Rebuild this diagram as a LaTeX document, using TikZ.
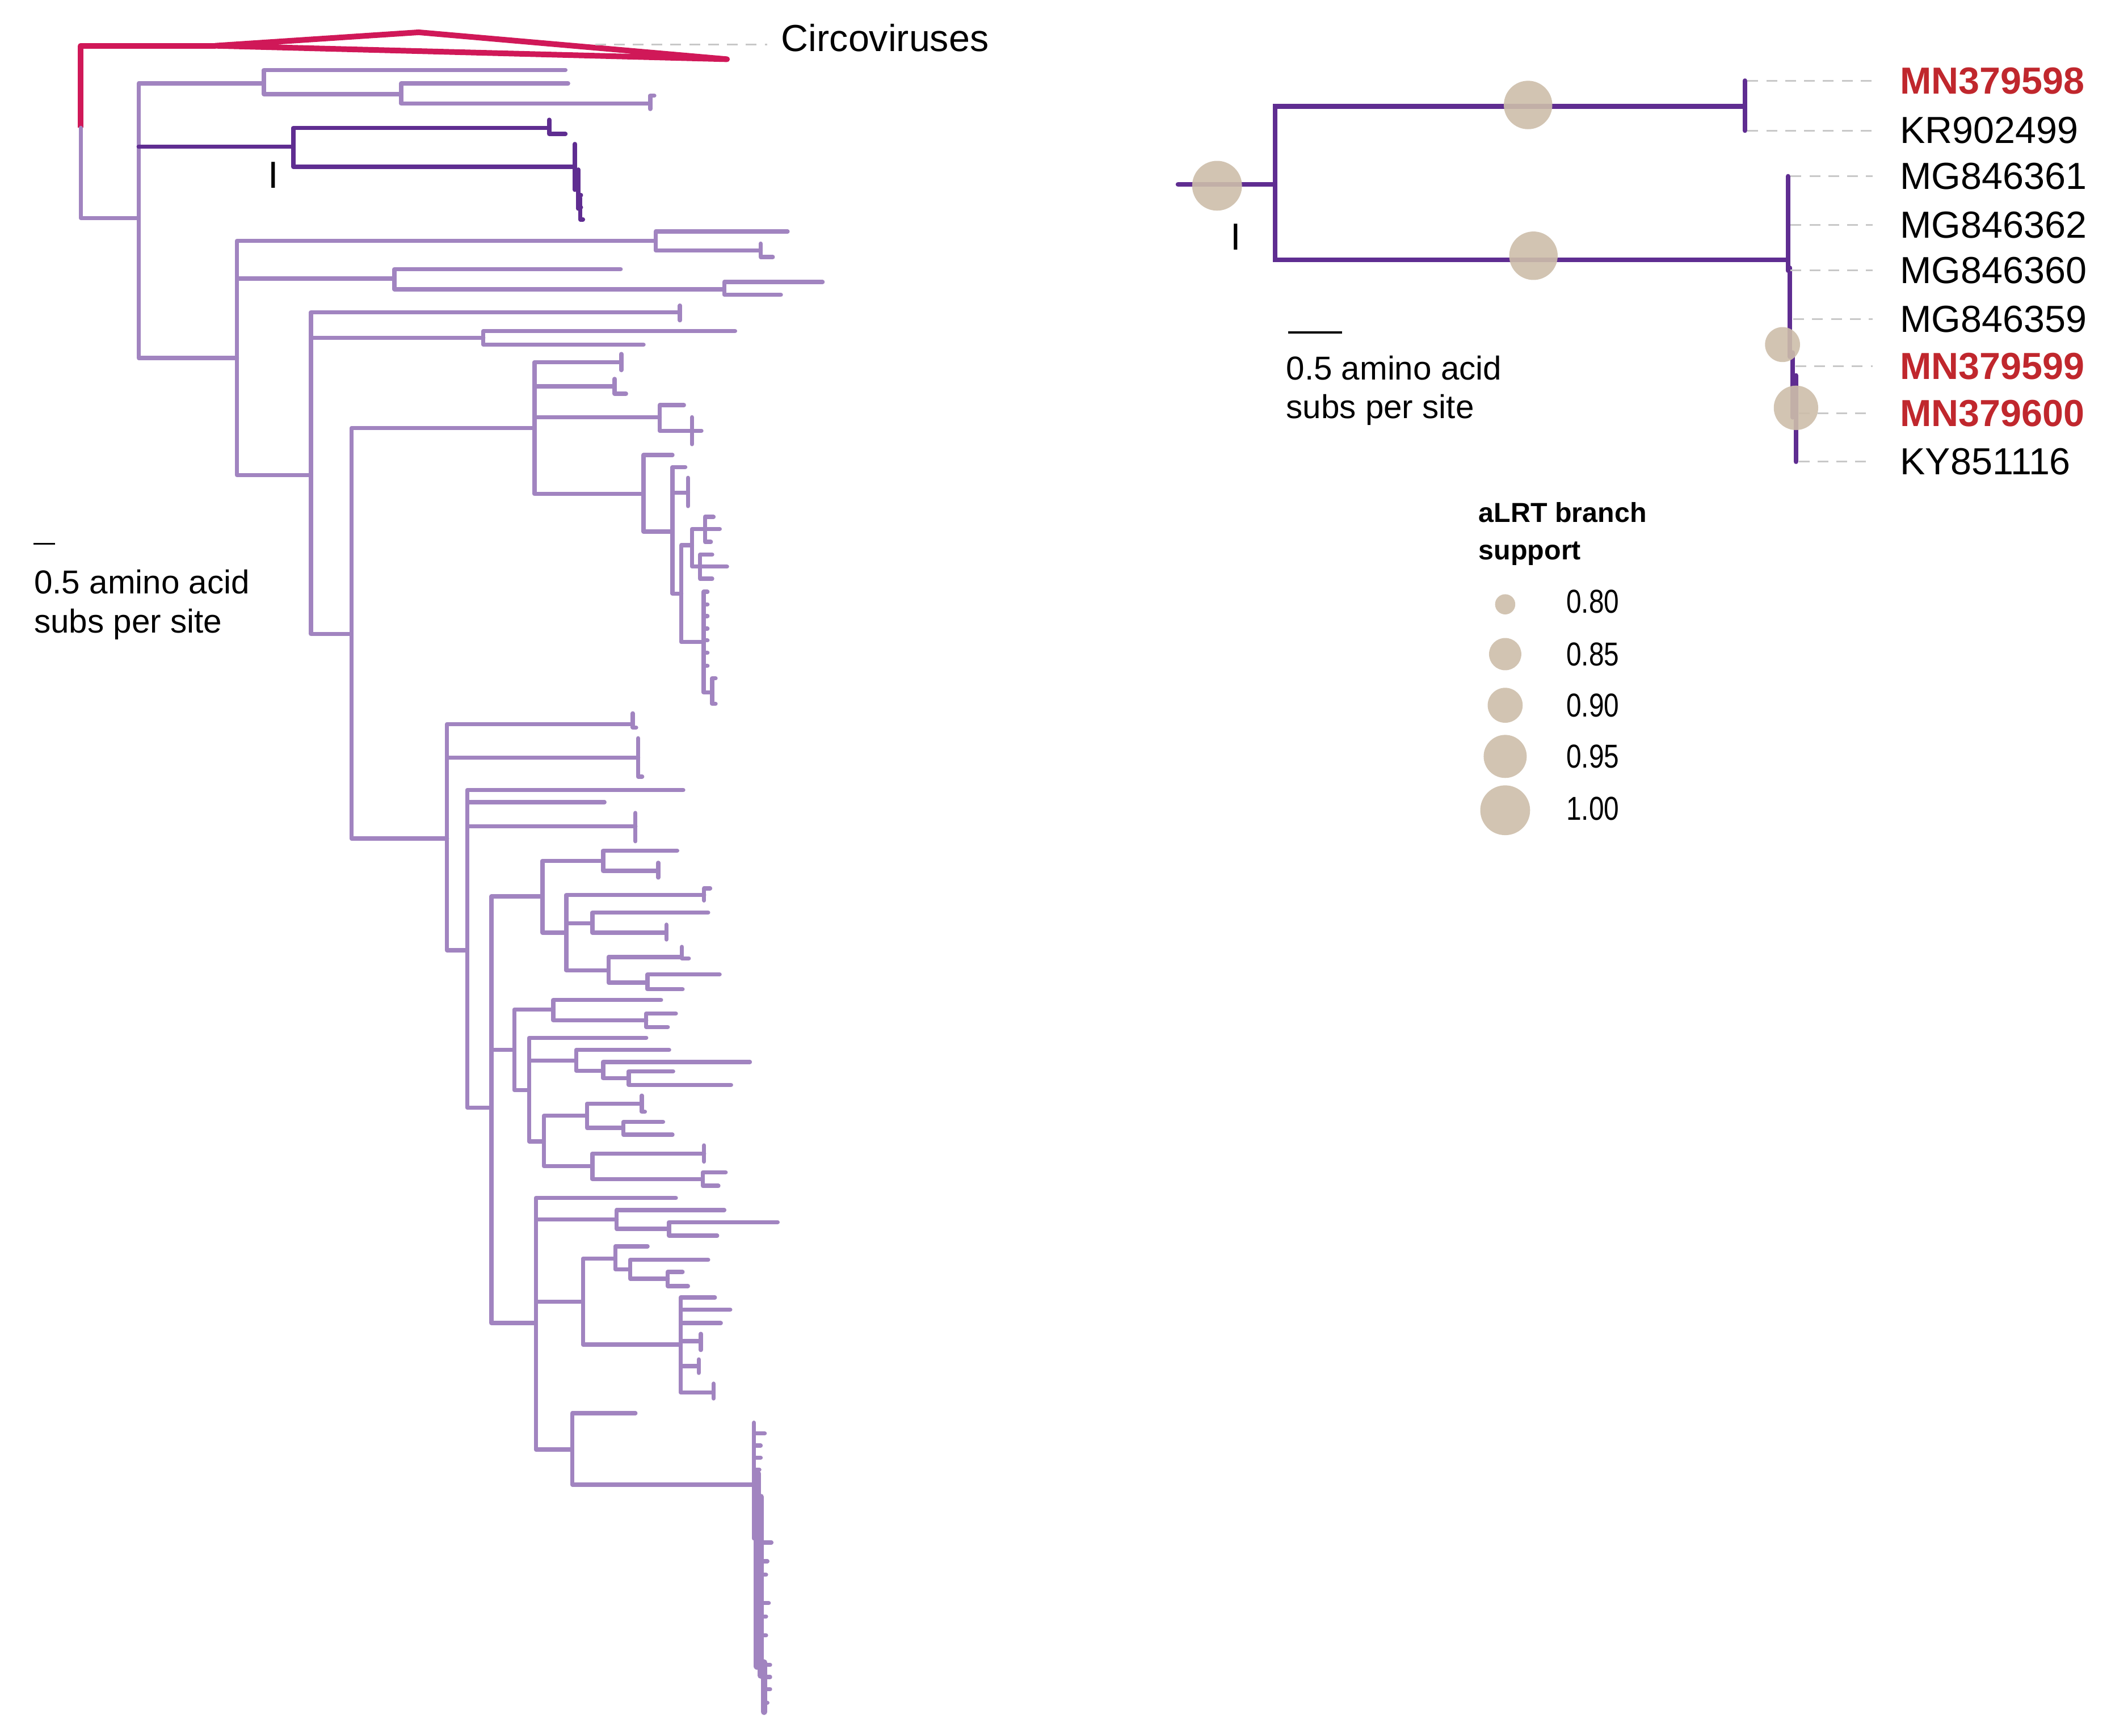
\documentclass[tikz,border=0pt]{standalone}
\usepackage{fontspec}
\setmainfont{Liberation Sans}
\newfontfamily\narrowfont[FakeStretch=0.82]{Liberation Sans}
\definecolor{lt}{RGB}{161,132,192}
\definecolor{dk}{RGB}{95,45,145}
\definecolor{cri}{RGB}{208,24,88}
\definecolor{tanc}{RGB}{205,190,170}
\definecolor{redl}{RGB}{192,39,45}
\definecolor{dashg}{RGB}{200,200,200}
\begin{document}
\begin{tikzpicture}[x=0.5pt,y=-0.5pt,
  lb/.style={line width=1.55pt, color=lt, line cap=round, line join=round},
  db/.style={line width=1.6pt, color=dk, line cap=round, line join=round},
  rb/.style={line width=1.75pt, color=dk, line cap=round},
  cb/.style={line width=2.1pt, color=cri, line join=round},
  lead/.style={dashg, line width=0.6pt, dash pattern=on 4pt off 3pt},
  bsupp/.style={circle, fill=tanc, fill opacity=0.9, inner sep=0pt, minimum size=#1},
  tiplab/.style={anchor=west, inner sep=0pt, font=\fontsize{14}{16}\selectfont},
  redlab/.style={tiplab, text=redl, font=\bfseries\fontsize{14}{16}\selectfont},
  scaletxt/.style={anchor=base west, inner sep=0pt, font=\fontsize{12.3}{14}\selectfont},
  legnum/.style={anchor=west, inner sep=0pt, font=\narrowfont\fontsize{12.3}{14}\selectfont},
  legtitle/.style={anchor=base west, inner sep=0pt, font=\bfseries\fontsize{10.2}{12}\selectfont},
  clade/.style={inner sep=0pt, font=\fontsize{14}{16}\selectfont}]
\useasboundingbox (0,0) rectangle (1568,1289.4);

% ---------------- left tree ----------------
\coordinate (R0) at (60,95);
\coordinate (CV) at (160,34);
\draw[cb] (R0) |- (CV);
\draw[cb] (CV) -- (311,24) -- (540,44) -- cycle;
\foreach \p/\c/\x/\y in {
 R0/N0/103/162, N0/A/196/62, A/a1/420/52, A/A2/298/70, A2/a2/422/62, A2/A3/483/77,
 A3/a3/486/71, A3/a4/483/81,
 N0/N1/176/266, N1/B/487/179, B/b1/585/172, B/B2/565/186, B2/b2/565/181, B2/b3/574/191,
 N1/C/293/207, C/c1/461/200, C/C2/538/215, C2/c2/611/209.5, C2/c3/580/219,
 N1/D/231/353, D/D1/505/232, D1/d1/505/227, D1/d2/505/238,
 D/D2/359/251, D2/d3/546/246, D2/d4/478/256,
 D/N3/261/471,
 N3/P/397/318, P/P1/461.5/269, P1/p1/461.5/263, P1/p2/461.5/275,
 P/P2/456.5/287, P2/p3/456.5/281.5, P2/p4/465/292.5,
 P/P3/490/310, P3/p5/508/301, P3/P3b/514/320, P3b/p6/514/310, P3b/p7/514/330, P3b/p8/521/320,
 P/P4/478/367, P4/p9/499.5/338, P4/P5/499.5/395, P5/p10/509/347,
 P5/P6/511/366, P6/p11/511/355, P6/p12/511/376,
 P5/P7/506/441, P7/P8/514/405, P8/P8a/523.7/393, P8a/p13/530/384, P8a/p14/534.6/393, P8a/p15/528/402.6,
 P8/P8b/520/421, P8b/p16/529/412, P8b/p17/540/421, P8b/p18/529/430,
 P7/P9/522.7/477, P9/p19/525.5/439.7, P9/p20/525.5/449, P9/p21/525.5/457.7, P9/p22/525.5/467,
 P9/p23/525.5/475.8, P9/p24/525.5/485, P9/p25/525.5/494.7,
 P9/P9b/529/514.5, P9b/p26/531.5/504, P9b/p27/531.5/523,
 N3/Q/332/623, Q/Q1/470/538, Q1/q1/470/530, Q1/q2/472.5/540.5,
 Q/Q2/474/563, Q2/q3/474/548.5, Q2/q4/477/577,
 Q/Q3/347/706, Q3/q5/507.5/587, Q3/q6/449/596, Q3/Q3c/472/614, Q3c/q7/472/604, Q3c/q8/472/625,
 Q3/Q4/365/823,
 Q4/Q4a/403/666, Q4a/Q5/448/639.5, Q5/q9/503/632, Q5/Q5b/489/647, Q5b/q10/489/641, Q5b/q11/489/652,
 Q4a/Q6/420.6/693, Q6/Q6a/523/665, Q6a/q12/527.5/660, Q6a/q13/523/669,
 Q6/Q6b/440/686, Q6b/q14/526/678, Q6b/Q6b2/495/693, Q6b2/q15/495/687, Q6b2/q16/495/698,
 Q6/Q6c/452/721, Q6c/Q6c1/506.5/711, Q6c1/q17/506.5/703.5, Q6c1/q18/511.6/712,
 Q6c/Q6c2/481/730, Q6c2/q19/534.5/724, Q6c2/q20/507/735,
 Q4/Q4b/382/780, Q4b/Q7/411/750, Q7/q21/491/743, Q7/Q7b/480/758, Q7b/q22/502/753, Q7b/q23/496/763,
 Q4b/Q8/393/810, Q8/q24/480/771, Q8/Q9/428/788, Q9/q25/497/780, Q9/Q9b/448/795.5,
 Q9b/q26/557/789, Q9b/Q9c/467/801, Q9c/q27/500/796, Q9c/q28/543/806,
 Q8/Q10/404/848, Q10/Q10a/436/829, Q10a/Q10a1/476.7/820, Q10a1/q29/476.7/814, Q10a1/q30/479/826,
 Q10a/Q10a2/463/838, Q10a2/q31/492.5/833.5, Q10a2/q32/499.5/843,
 Q10/Q10b/440/866.5, Q10b/Q10b1/523/857, Q10b1/q33/523/851, Q10b1/q34/523/863,
 Q10b/Q10b2/522/876, Q10b2/q35/539/871, Q10b2/q36/533.6/881,
 Q4/Q4c/398/983, Q4c/q37/502/890,
 Q4c/Q11/458/906, Q11/q38/538/899, Q11/Q11b/497/913, Q11b/q39/577.6/908, Q11b/q40/532.7/918,
 Q4c/Q12/433/967, Q12/Q12a/457/935, Q12a/q41/481/926, Q12a/Q12a2/468/943, Q12a2/q42/526/936,
 Q12a2/Q12a3/496/950, Q12a3/q43/507/945, Q12a3/q44/511/955.5,
 Q12/Q12b/505.6/999, Q12b/q45/531/964, Q12b/q46/542.4/973, Q12b/q47/535.4/983,
 Q12b/Q12b4/520.5/996.4, Q12b4/q48/520.5/991, Q12b4/q49/520.5/1003,
 Q12b/Q12b5/519/1015, Q12b5/q50/519/1010, Q12b5/q51/519/1020,
 Q12b/Q12b6/530/1034.6, Q12b6/q52/530/1028, Q12b6/q53/530/1039,
 Q4c/Q13/425/1077, Q13/q54/472/1050, Q13/Q14/560/1103}
 {\coordinate (\c) at (\x,\y); \draw[lb] (\p) |- (\c);}
% terminal comb of clade Q14
\draw[lb] (Q14) -- (560,1057);
\draw[lb] (Q14) -- (560,1143);
\draw[lb, line width=2.6pt] (562.5,1095) -- (562.5,1238);
\draw[lb, line width=2.2pt] (565,1112) -- (565,1245);
\draw[lb, line width=2.2pt] (567.5,1235) -- (567.5,1272);
\foreach \xa/\xb/\y in {560/568/1065, 560/565/1074, 560/565/1083, 560/564/1092, 560/564/1120, 562.5/573/1146,
  565/570/1160, 565/571/1191, 565/569/1201, 565/569/1170, 565/569/1215, 567.5/572/1237, 567.5/572/1246,
  567.5/572/1255, 567.5/570/1265}
  \draw[lb] (\xa,\y) -- (\xb,\y);

% dark clade I (left)
\coordinate (I) at (218,109);
\draw[db] (N0 |- I) -- (I);
\foreach \p/\c/\x/\y in {I/I1/408/95, I1/i1/408/89, I1/i2/420/99.5, I/I2/427/124, I2/i3/427/107, I2/i4/427/141}
 {\coordinate (\c) at (\x,\y); \draw[db] (\p) |- (\c);}
\draw[db] (429.5,126) -- (429.5,155);
\draw[db] (429.5,145) -- (431.5,145);
\draw[db] (429.5,154) -- (431.5,154);
\draw[db] (431,147) -- (431,163) -- (433,163);
\node[clade] (IL) at (203,130) {I};

% circoviruses label
\coordinate (cvend) at (442,33);
\node[tiplab] (circo) at (580,28) {Circoviruses};
\draw[lead] (cvend) -- ([xshift=-5pt]circo.west |- cvend);

% left scale bar
\coordinate (sbl1) at (25,404);
\coordinate (sbl2) at (41,404);
\draw[black, line width=0.8pt] (sbl1) -- (sbl2);
\node[scaletxt] (sbltxt1) at (25,441) {0.5 amino acid};
\node[scaletxt] (sbltxt2) at (25,470) {subs per site};

% ---------------- right tree ----------------
\coordinate (rS) at (875,137);
\coordinate (rR) at (947,137);
\draw[rb] (rS) -- (rR);
\foreach \p/\c/\x/\y in {rR/rU/1296/79, rU/t1/1296/60, rU/t2/1296/97, rR/rL/1328/193,
  rL/t3/1328/131, rL/t4/1328/167, rL/t5/1328/201}
 {\coordinate (\c) at (\x,\y); \draw[rb] (\p) |- (\c);}
\coordinate (t6) at (1330,237);
\coordinate (t7) at (1331.5,272);
\coordinate (t8) at (1334,307);
\coordinate (t9) at (1334,343);
\draw[rb] (1329.5,199) -- (1329.5,265);
\draw[rb] (1331.5,262) -- (1331.5,310);
\draw[rb] (1334,279) -- (t9);

\node[redlab] (L1) at (1411,60) {MN379598};
\node[tiplab] (L2) at (1411,97) {KR902499};
\node[tiplab] (L3) at (1411,131) {MG846361};
\node[tiplab] (L4) at (1411,167) {MG846362};
\node[tiplab] (L5) at (1411,201) {MG846360};
\node[tiplab] (L6) at (1411,237) {MG846359};
\node[redlab] (L7) at (1411,272) {MN379599};
\node[redlab] (L8) at (1411,307) {MN379600};
\node[tiplab] (L9) at (1411,343) {KY851116};
\foreach \t/\l in {t1/L1, t2/L2, t3/L3, t4/L4, t5/L5, t6/L6, t7/L7, t8/L8}
  \draw[lead] ([xshift=1pt]\t) -- ([xshift=-10pt]\l.west |- \t);
\draw[lead] ([xshift=1pt]t9) -- ([xshift=-12pt]L9.west |- t9);

% support circles
\node[bsupp=18.5pt] (s1) at (904,138) {};
\node[bsupp=18pt] (s2) at (1135,78) {};
\node[bsupp=18pt] (s3) at (1139,190) {};
\node[bsupp=13pt] (s4) at (1324,256) {};
\node[bsupp=16.5pt] (s5) at (1334,303) {};

\node[clade] (IR) at (918,176) {I};

% right scale bar
\coordinate (sbr1) at (957,247);
\coordinate (sbr2) at (997,247);
\draw[black, line width=0.8pt] (sbr1) -- (sbr2);
\node[scaletxt] (sbrtxt1) at (955,282) {0.5 amino acid};
\node[scaletxt] (sbrtxt2) at (955,311) {subs per site};

% legend
\node[legtitle] (lt1) at (1098,388) {aLRT branch};
\node[legtitle] (lt2) at (1098,416) {support};
\node[bsupp=7.5pt] (g1) at (1118,449) {};
\node[bsupp=12pt] (g2) at (1118,486) {};
\node[bsupp=13pt] (g3) at (1118,524) {};
\node[bsupp=16pt] (g4) at (1118,562) {};
\node[bsupp=18.5pt] (g5) at (1118,602) {};
\node[legnum] (n1) at (1163,447) {0.80};
\node[legnum] (n2) at (1163,486) {0.85};
\node[legnum] (n3) at (1163,524) {0.90};
\node[legnum] (n4) at (1163,562) {0.95};
\node[legnum] (n5) at (1163,601) {1.00};
\end{tikzpicture}
\end{document}
